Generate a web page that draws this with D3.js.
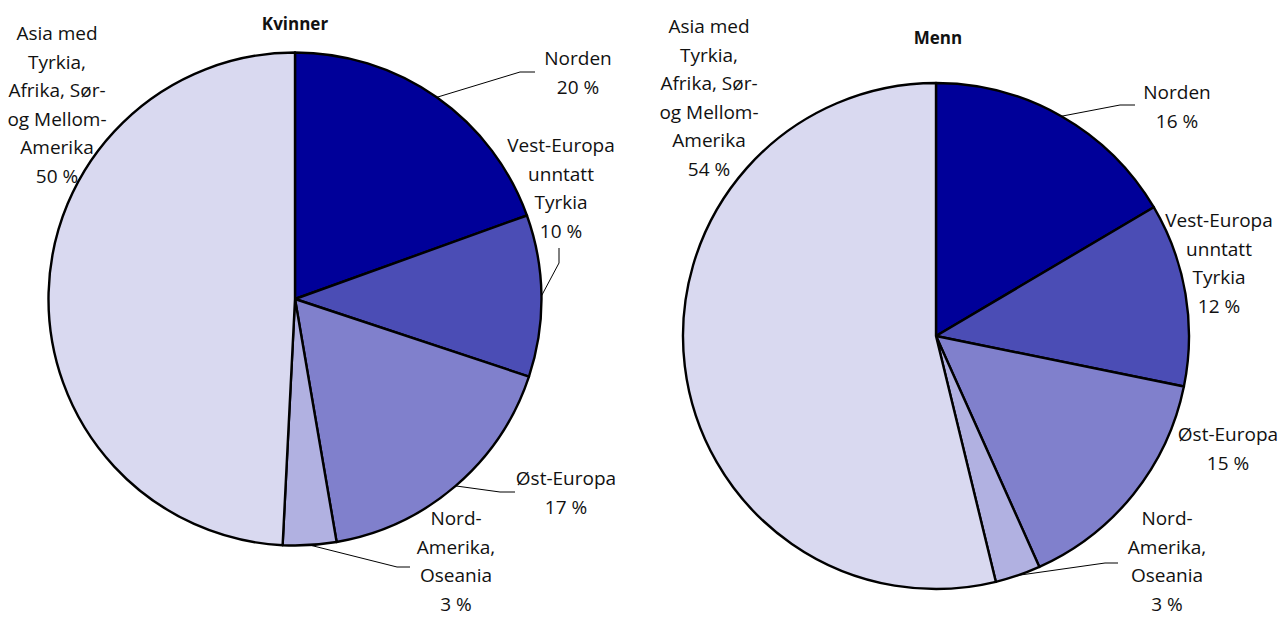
<!DOCTYPE html>
<html>
<head>
<meta charset="utf-8">
<script src="https://cdn.jsdelivr.net/npm/d3@7"></script>
<style>
  body { margin: 0; background: #fff; }
  text { font-family: "Open Sans", "Noto Sans", sans-serif; fill: #111; }
  .title { font-weight: bold; font-size: 17px; }
  .label { font-size: 19px; }
</style>
</head>
<body>
<div id="chart"></div>
<script>
// data
const regions = ["Norden", "Vest-Europa unntatt Tyrkia", "Øst-Europa", "Nord-Amerika, Oseania", "Asia med Tyrkia, Afrika, Sør- og Mellom-Amerika"];
const womenShare = [19.5, 10.6, 17.2, 3.5, 49.2];
const menShare = [16.5, 11.7, 15.1, 2.9, 53.8];
const womenLabels = ["20 %", "10 %", "17 %", "3 %", "50 %"];
const menLabels = ["16 %", "12 %", "15 %", "3 %", "54 %"];
const labelLines = [
    ["Norden"],
    ["Vest-Europa", "unntatt", "Tyrkia"],
    ["Øst-Europa"],
    ["Nord-", "Amerika,", "Oseania"],
    ["Asia med", "Tyrkia,", "Afrika, Sør-", "og Mellom-", "Amerika"]
];

const colors = ["#000099", "#4b4db5", "#8080cc", "#b1b1e1", "#d9d9f0"];

const svgWidth = 1278, svgHeight = 617, lineH = 28.6;

let svg = d3.select("#chart").append("svg")
    .attr("width", svgWidth)
    .attr("height", svgHeight);

// layout per pie: centre, radius, label anchors (first baseline) and leader elbows
const pies = [
    {
        title: "Kvinner", values: womenShare, pct: womenLabels,
        cx: 295, cy: 299, r: 246.5, titleX: 295, titleY: 30,
        labels: [[578, 65], [561, 152], [566, 485], [456, 525], [57, 40]],
        leaders: [[[520, 72], [535, 72]], [[559, 263], [559, 248]], [[500, 492], [515, 492]], [[397, 567], [410, 567]], null]
    },
    {
        title: "Menn", values: menShare, pct: menLabels,
        cx: 936, cy: 336, r: 253, titleX: 938, titleY: 44,
        labels: [[1177, 99], [1219, 227], [1228, 441], [1167, 525], [709, 33]],
        leaders: [[[1120, 105], [1135, 105]], null, null, [[1105, 563], [1118, 563]], null]
    }
];

let pie = d3.pie().sort(null).value(d => d);

pies.forEach(p => {
    let g = svg.append("g").attr("transform", `translate(${p.cx},${p.cy})`);
    let arcs = pie(p.values);
    let arc = d3.arc().innerRadius(0).outerRadius(p.r);

    g.selectAll("path")
        .data(arcs)
        .join("path")
        .attr("d", arc)
        .attr("fill", (d, i) => colors[i])
        .attr("stroke", "#000")
        .attr("stroke-width", 2.4)
        .attr("stroke-linejoin", "round");

    // leader lines from slice edge (mid angle) to label
    arcs.forEach((a, i) => {
        if (!p.leaders[i]) return;
        let mid = (a.startAngle + a.endAngle) / 2;
        let pts = [[p.cx + p.r * Math.sin(mid), p.cy - p.r * Math.cos(mid)]].concat(p.leaders[i]);
        svg.append("path")
            .attr("d", d3.line()(pts))
            .attr("fill", "none")
            .attr("stroke", "#000")
            .attr("stroke-width", 1);
    });

    svg.append("text")
        .attr("class", "title")
        .attr("text-anchor", "middle")
        .attr("x", p.titleX)
        .attr("y", p.titleY)
        .text(p.title);

    labelLines.forEach((lines, i) => {
        let t = svg.append("text")
            .attr("class", "label")
            .attr("text-anchor", "middle");
        lines.concat([p.pct[i]]).forEach((s, k) => {
            t.append("tspan")
                .attr("x", p.labels[i][0])
                .attr("y", p.labels[i][1] + k * lineH)
                .text(s);
        });
    });
});
</script>
</body>
</html>
